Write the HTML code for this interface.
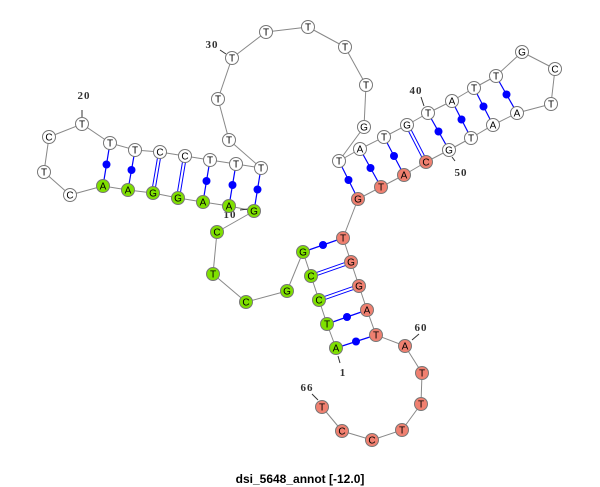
<!DOCTYPE html>
<html><head><meta charset="utf-8"><style>
html,body{margin:0;padding:0;background:#fff;width:600px;height:487px;overflow:hidden}
</style></head><body>
<svg id="s" width="600" height="487" xmlns="http://www.w3.org/2000/svg" font-family="'Liberation Sans',sans-serif"></svg>
<script>
var P=[[336,348,'A'],[327,324,'T'],[319,300,'C'],[311,276,'C'],[303,252,'G'],[287,291,'G'],[246,302,'C'],[213,274,'T'],[217,232,'C'],[254,211,'G'],
[229,206,'A'],[203,202,'A'],[178,198,'G'],[153,193,'G'],[128,190,'A'],[103,186,'A'],[70,195,'C'],[44,172,'T'],[49,137,'C'],[82,124,'T'],
[110,143,'T'],[135,150,'T'],[160,152,'C'],[185,156,'C'],[210,160,'T'],[236,164,'T'],[261,168,'T'],[229,140,'T'],[218,99,'T'],[232,58,'T'],
[266,32,'T'],[308,27,'T'],[345,47,'T'],[366,85,'T'],[364,127,'G'],[339,161,'T'],[360,149,'A'],[384,137,'T'],[407,125,'G'],[428,113,'T'],
[452,101,'A'],[474,88,'T'],[496,76,'T'],[522,52,'G'],[555,69,'C'],[551,104,'T'],[517,113,'A'],[493,125,'A'],[471,138,'T'],[449,150,'G'],
[426,162,'C'],[404,175,'A'],[381,187,'T'],[358,199,'G'],[343,238,'T'],[351,262,'G'],[359,286,'G'],[367,310,'A'],[376,335,'T'],[405,346,'A'],
[422,373,'T'],[421,404,'T'],[402,430,'T'],[372,440,'C'],[342,431,'C'],[322,407,'T']];
var pairs=[[1,59,1],[2,58,1],[3,57,2],[4,56,2],[5,55,1],[10,27,1],[11,26,1],[12,25,1],[13,24,2],[14,23,2],[15,22,1],[16,21,1],
[36,54,1],[37,53,1],[38,52,1],[39,51,2],[40,50,1],[41,49,1],[42,48,1],[43,47,1]];
var h='';
for(var i=0;i<P.length-1;i++)h+='<line x1="'+P[i][0]+'" y1="'+P[i][1]+'" x2="'+P[i+1][0]+'" y2="'+P[i+1][1]+'" stroke="#888" stroke-width="1"/>';
pairs.forEach(function(p){var a=P[p[0]-1],b=P[p[1]-1];
 if(p[2]==1){h+='<line x1="'+a[0]+'" y1="'+a[1]+'" x2="'+b[0]+'" y2="'+b[1]+'" stroke="#00f" stroke-width="1.2"/>';
  h+='<circle cx="'+(a[0]+b[0])/2+'" cy="'+(a[1]+b[1])/2+'" r="4" fill="#00f"/>';}
 else{var dx=b[0]-a[0],dy=b[1]-a[1],l=Math.hypot(dx,dy),nx=-dy/l*1.5,ny=dx/l*1.5;
  [1,-1].forEach(function(s){h+='<line x1="'+(a[0]+nx*s)+'" y1="'+(a[1]+ny*s)+'" x2="'+(b[0]+nx*s)+'" y2="'+(b[1]+ny*s)+'" stroke="#00f" stroke-width="1"/>';});}
});
var L=[[84,99,'20',82,117,82,110],[230,218,'10',240,210,248,209],[212,48,'30',220,50,226,54],[416,94,'40',421,97,424,106],[461,176,'50',455,161,452,157],[343,376,'1',338,356,340,363],[421,331,'60',419,334,412,340],[307,391,'66',312,394,318,400]];
L.forEach(function(l){h+='<line x1="'+l[3]+'" y1="'+l[4]+'" x2="'+l[5]+'" y2="'+l[6]+'" stroke="#333" stroke-width="1"/>';
 h+='<text x="'+l[0]+'" y="'+l[1]+'" font-family="Liberation Serif,serif" font-weight="bold" font-size="11" fill="#333" text-anchor="middle" letter-spacing="1">'+l[2]+'</text>';});
P.forEach(function(p,i){var n=i+1,f=n<=16?'#7fe000':(n>=51?'#f08070':'#fff');
 h+='<circle cx="'+p[0]+'" cy="'+p[1]+'" r="6.5" fill="'+f+'" stroke="#777" stroke-width="1"/>';
 h+='<text x="'+p[0]+'" y="'+(p[1]+3.5)+'" font-size="10" text-anchor="middle" fill="#000">'+p[2]+'</text>';});
h+='<text x="300" y="483" font-size="12" font-weight="bold" text-anchor="middle" fill="#000">dsi_5648_annot [-12.0]</text>';
document.getElementById('s').innerHTML=h;
</script>
</body></html>
